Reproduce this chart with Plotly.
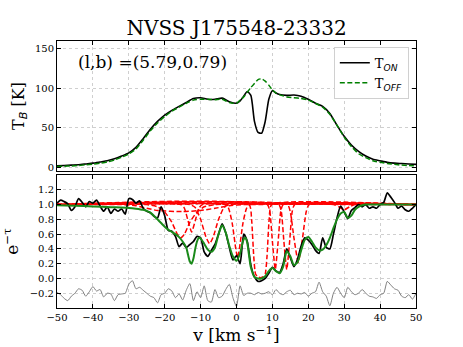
import plotly.graph_objects as go

# ── Top panel: brightness temperature (on / off source) ─────────────────────
v_tb = [-50, -48, -46, -44, -42, -40, -38, -36, -34, -32, -30, -28, -26, -24, -22,
        -20, -18, -16, -14, -12, -10, -8, -6, -4, -2, 0,
        1, 2, 3, 4, 5, 6, 7, 8, 9, 10, 11, 12,
        14, 16, 18, 20, 22, 24, 26, 28, 30, 32, 34, 36, 38, 40, 42, 44, 46, 48, 50]
t_on = [1.5, 2, 2.5, 3, 4, 5, 6.5, 8, 10.5, 14, 18, 25, 36, 48, 58,
        66, 72, 77, 82, 87, 88, 86, 86, 87.5, 83, 81,
        84, 90, 96, 91, 58, 44, 43, 58, 86, 97, 94, 92,
        91, 91.5, 90, 86, 81, 77, 68, 53, 39, 28, 20, 14, 10, 8, 6, 5, 4.5, 4, 3.5]
t_off = [0.8, 1, 1.5, 2, 3, 3.8, 5, 6.5, 9, 12.5, 16.5, 23, 34, 46, 56,
         64, 71, 76, 81, 85, 86, 86, 85.5, 86, 82, 81,
         85, 89, 95, 101, 106, 111, 112, 109, 104, 98, 94, 92,
         89, 88, 87, 85, 81, 76, 67, 53, 38, 26, 17, 12, 8, 6, 4.5, 3.5, 2.5, 2, 1.5]

# ── Bottom panel: absorption spectrum, fit and residual ─────────────────────
v_abs = list(range(-50, 51))
e_tau = [1.02, 1.06, 1.04, 1.01, 0.92, 0.97, 1.08, 1.03, 0.97, 1.04,
         1.02, 1.06, 0.98, 0.91, 0.97, 0.88, 0.94, 0.91, 0.94, 0.87,
         1.08, 1.07, 1.02, 1.05, 0.95, 0.91, 0.89, 0.84, 0.82, 0.97,
         0.85, 0.65, 0.64, 0.57, 0.43, 0.48, 0.42, 0.46, 0.50, 0.57,
         0.55, 0.36, 0.30, 0.38, 0.46, 0.60, 0.74, 0.62, 0.42, 0.25,
         0.31, 0.20, 0.60, 0.50, 0.18, 0.02, -0.04, -0.03, 0.00, 0.07,
         0.15, 0.10, 0.08, 0.20, 0.40, 0.28, 0.16, 0.26, 0.44, 0.55,
         0.52, 0.46, 0.38, 0.34, 0.55, 0.42, 0.40, 0.60, 0.82, 0.98,
         0.90, 0.81, 0.92, 0.96, 1.00, 0.97, 1.00, 0.95, 0.97, 0.95,
         1.00, 1.03, 1.16, 1.10, 1.03, 0.95, 0.98, 0.93, 0.91, 0.95, 1.00]
residual = [-0.19, -0.22, -0.27, -0.30, -0.24, -0.20, -0.14, -0.16, -0.24, -0.18,
            -0.11, -0.17, -0.15, -0.25, -0.20, -0.21, -0.30, -0.22, -0.21, -0.20,
            -0.08, -0.03, -0.14, -0.12, -0.16, -0.20, -0.24, -0.26, -0.33, -0.22,
            -0.20, -0.14, -0.17, -0.26, -0.21, -0.29, -0.16, -0.07, -0.30, -0.18,
            -0.26, -0.10, -0.30, -0.32, -0.15, -0.26, -0.24, -0.15, -0.08, -0.26,
            -0.38, -0.10, -0.23, -0.20, -0.20, -0.22, -0.19, -0.21, -0.20, -0.18,
            -0.22, -0.15, -0.20, -0.22, -0.18, -0.16, -0.22, -0.20, -0.21, -0.19,
            -0.24, -0.20, -0.18, -0.05, -0.18, -0.24, -0.37, -0.20, -0.12, -0.20,
            -0.26, -0.12, -0.18, -0.22, -0.20, -0.15, -0.20, -0.24, -0.25, -0.27,
            -0.22, -0.20, -0.04, -0.09, -0.14, -0.16, -0.24, -0.26, -0.22, -0.28, -0.20]

v_fit = [-50, -45, -40, -35, -30, -28, -26, -25, -24, -23, -22, -21, -20, -19, -18,
         -17, -16, -15, -14, -13.5, -13, -12.5, -12, -11.5, -11, -10.5, -10, -9, -8,
         -7, -6, -5, -4, -3, -2, -1, 0, 1, 2, 2.5, 3, 4, 5, 6, 7, 8, 9, 10, 11, 12,
         13, 14, 15, 16, 17, 18, 19, 20, 21, 22, 23, 24, 25, 26, 27, 28, 29, 30, 31,
         32, 33, 34, 35, 36, 40, 45, 50]
fit = [0.99, 0.985, 0.975, 0.965, 0.955, 0.945, 0.93, 0.915, 0.89, 0.85, 0.80, 0.75,
       0.70, 0.66, 0.63, 0.60, 0.56, 0.50, 0.42, 0.32, 0.23, 0.20, 0.27, 0.40, 0.50,
       0.55, 0.54, 0.47, 0.39, 0.36, 0.42, 0.60, 0.72, 0.62, 0.44, 0.30, 0.24, 0.34,
       0.53, 0.55, 0.48, 0.15, 0.02, 0.00, 0.00, 0.03, 0.10, 0.14, 0.10, 0.07, 0.16,
       0.37, 0.30, 0.18, 0.22, 0.38, 0.52, 0.56, 0.50, 0.42, 0.38, 0.39, 0.45, 0.55,
       0.68, 0.80, 0.88, 0.90, 0.82, 0.85, 0.93, 0.97, 0.99, 1.0, 1.0, 1.0, 1.0]

# Gaussian components of the fit
comp_v = [
    [-50, -32, -28, -25, -22, -15, -10, -6, -2, 2, 50],
    [-50, -25, -22, -20, -18, -16.5, -15.5, -14.5, -13, -11, -9, -6, 50],
    [-50, -15.5, -14.5, -13.5, -12.5, -11.5, -10.5, -9.5, 50],
    [-50, -13, -11.5, -10, -8.5, -7.5, -6.5, -5, -3.5, -2, 50],
    [-50, -3.2, -2.2, -1.2, -0.2, 0.3, 0.8, 1.8, 2.8, 3.8, 50],
    [-50, 3.5, 4.2, 4.8, 5.3, 6.0, 6.65, 7.3, 8.0, 8.5, 9.1, 9.8, 50],
    [-50, 8.6, 9.3, 10.0, 10.8, 11.6, 12.3, 13.0, 50],
    [-50, 11.8, 12.5, 13.2, 14.0, 14.8, 15.5, 16.2, 50],
    [-50, 14.2, 15.0, 16.0, 17.2, 18.4, 19.4, 20.2, 50],
    [-50, 27, 28.5, 30, 31.5, 33, 50],
]
comp_y = [
    [1, 1, 0.985, 0.95, 0.92, 0.905, 0.92, 0.95, 0.985, 1, 1],
    [1, 1, 0.97, 0.9, 0.76, 0.6, 0.55, 0.6, 0.76, 0.9, 0.97, 1, 1],
    [1, 1, 0.95, 0.78, 0.63, 0.78, 0.95, 1, 1],
    [1, 1, 0.96, 0.8, 0.56, 0.47, 0.56, 0.8, 0.96, 1, 1],
    [1, 1, 0.95, 0.75, 0.4, 0.28, 0.4, 0.75, 0.95, 1, 1],
    [1, 1, 0.8, 0.3, 0.06, 0.02, 0.01, 0.02, 0.06, 0.3, 0.8, 1, 1],
    [1, 1, 0.9, 0.5, 0.12, 0.5, 0.9, 1, 1],
    [1, 1, 0.9, 0.5, 0.12, 0.5, 0.9, 1, 1],
    [1, 1, 0.9, 0.55, 0.22, 0.55, 0.9, 1, 1],
    [1, 1, 0.97, 0.93, 0.97, 1, 1],
]

FONT = "DejaVu Serif"
SANS_I = "<i><span style='font-family:DejaVu Sans'>{}</span></i>"

fig = go.Figure()

fig.add_trace(go.Scatter(
    x=v_tb, y=t_on, name="T<sub>" + SANS_I.format("ON") + "</sub>",
    mode="lines", line=dict(color="black", width=1.6, shape="spline", smoothing=0.6),
    xaxis="x", yaxis="y",
))
fig.add_trace(go.Scatter(
    x=v_tb, y=t_off, name="T<sub>" + SANS_I.format("OFF") + "</sub>",
    mode="lines", line=dict(color="green", width=1.5, dash="5px,2.5px",
                            shape="spline", smoothing=0.6),
    xaxis="x", yaxis="y",
))

# red dashed components; every other one is drawn right-to-left so the
# dash phases differ where they overlap at 1.0
for i, (cv, cy) in enumerate(zip(comp_v, comp_y)):
    if i % 2:
        cv, cy = cv[::-1], cy[::-1]
    fig.add_trace(go.Scatter(
        x=cv, y=cy, mode="lines", showlegend=False,
        line=dict(color="red", width=1.5, dash="5px,2.5px", shape="spline", smoothing=0.5),
        xaxis="x2", yaxis="y2",
    ))

fig.add_trace(go.Scatter(
    x=v_abs, y=residual, mode="lines", showlegend=False,
    line=dict(color="gray", width=1, shape="spline", smoothing=0.6),
    xaxis="x2", yaxis="y2",
))
fig.add_trace(go.Scatter(
    x=v_abs, y=e_tau, mode="lines", showlegend=False,
    line=dict(color="black", width=1.7, shape="spline", smoothing=0.6),
    xaxis="x2", yaxis="y2",
))
fig.add_trace(go.Scatter(
    x=v_fit, y=fit, mode="lines", showlegend=False,
    line=dict(color="#1a8a1a", width=2, shape="spline", smoothing=0.6),
    xaxis="x2", yaxis="y2",
))

axis_common = dict(
    showline=True, linecolor="black", linewidth=1, mirror="ticks",
    ticks="inside", ticklen=4, tickcolor="black", tickwidth=1,
    showgrid=True, gridcolor="#cfcfcf", griddash="dot", gridwidth=0.8,
    zeroline=False, automargin=False,
    tickfont=dict(family=FONT, size=10, color="black"),
)

fig.update_layout(
    width=463, height=347,
    margin=dict(l=57, r=47, t=41, b=39),
    plot_bgcolor="white", paper_bgcolor="white",
    font=dict(family=FONT, color="black"),
    title=dict(text="NVSS J175548-23332", x=0.511, xanchor="center",
               y=0.919, yanchor="middle", font=dict(family=FONT, size=20, color="black")),
    xaxis=dict(domain=[0, 1], anchor="y", range=[-50, 50], dtick=10,
               showticklabels=False, **axis_common),
    yaxis=dict(domain=[0.513, 1], anchor="x", range=[-5, 160],
               tickvals=[0, 50, 100, 150],
               title=dict(text="T<sub>" + SANS_I.format("B") + "</sub> [K]",
                          font=dict(family=FONT, size=16), standoff=6),
               **axis_common),
    xaxis2=dict(domain=[0, 1], anchor="y2", range=[-50, 50], dtick=10,
                title=dict(text="v [km s<sup>−1</sup>]", font=dict(family=FONT, size=17),
                           standoff=2),
                **axis_common),
    yaxis2=dict(domain=[0, 0.498], anchor="x2", range=[-0.4, 1.4],
                tickvals=[-0.2, 0.0, 0.2, 0.4, 0.6, 0.8, 1.0, 1.2], tickformat=".1f",
                title=dict(text="e<sup>−τ</sup>", font=dict(family=FONT, size=17),
                           standoff=6),
                **axis_common),
    legend=dict(x=0.98, xanchor="right", y=0.978, yanchor="top",
                bgcolor="white", bordercolor="#d0d0d0", borderwidth=1,
                font=dict(family=FONT, size=13, color="black"),
                tracegroupgap=0),
    annotations=[dict(
        text="(l,b) =(5.79,0.79)", xref="paper", yref="paper",
        x=0.054, y=0.921, xanchor="left", yanchor="middle", showarrow=False,
        font=dict(family=FONT, size=17, color="black"),
    )],
)

# the page body has a default 8px margin; drop it so the figure fills the window
fig.write_html("out.html", config={"displayModeBar": False},
               post_script="document.body.style.margin='0';")
